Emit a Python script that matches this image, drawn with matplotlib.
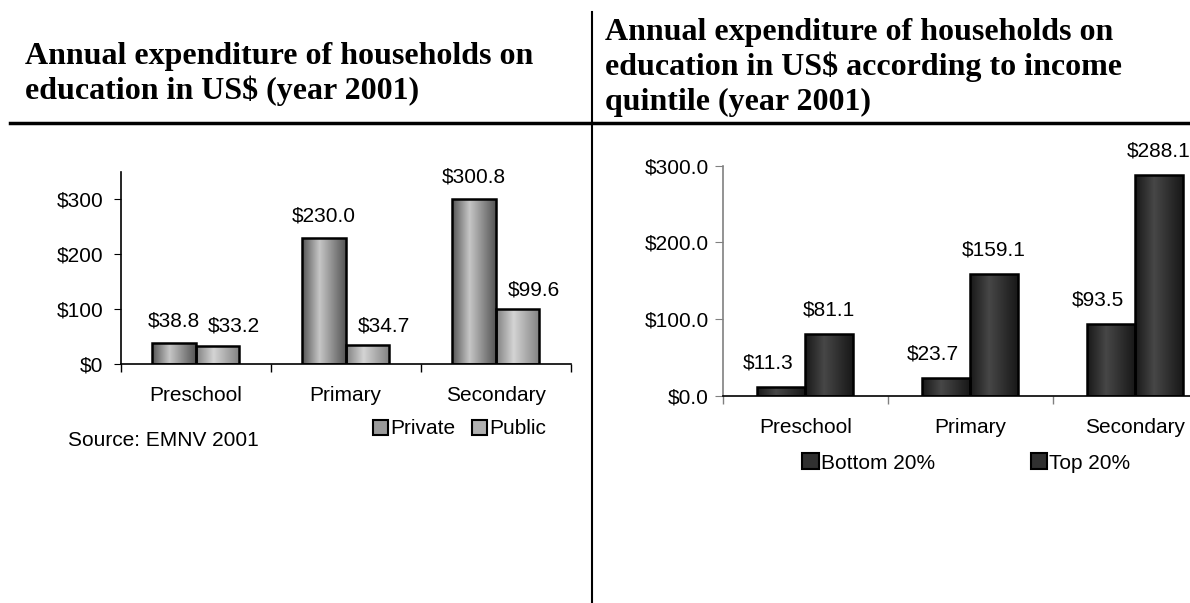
import numpy as np
import matplotlib
matplotlib.use("Agg")
import matplotlib.pyplot as plt
from matplotlib.colors import LinearSegmentedColormap
from matplotlib.lines import Line2D
from matplotlib.patches import Patch

# data
levels = ["Preschool", "Primary", "Secondary"]
private = [38.8, 230.0, 300.8]
public = [33.2, 34.7, 99.6]
bottom20 = [11.3, 23.7, 93.5]
top20 = [81.1, 159.1, 288.1]

W, H = 1190, 603
plt.rcParams["font.family"] = ["Liberation Sans", "DejaVu Sans"]

fig = plt.figure(figsize=(W / 100, H / 100), dpi=100)


def fx(x):
    return x / W


def fy(y):
    return 1 - y / H


def shade(ax, bars, edge, mid):
    # cylinder-like shading, clipped to each bar
    cmap = LinearSegmentedColormap.from_list("s", [(0, edge), (0.4, mid), (1, edge)])
    grad = np.linspace(0, 1, 200).reshape(1, -1)
    for b in bars:
        x0, y0 = b.get_xy()
        im = ax.imshow(grad, cmap=cmap, aspect="auto", zorder=2,
                       extent=[x0, x0 + b.get_width(), y0, y0 + b.get_height()])
        im.set_clip_path(b)


def label(ax, bars, vals, fmt, dx, dy):
    for b, v in zip(bars, vals):
        ax.annotate(fmt.format(v), (b.get_x() + b.get_width() / 2, v),
                    xytext=(dx, dy), textcoords="offset points",
                    ha="center", va="baseline", fontsize=15, annotation_clip=False)


def style(ax, ycol):
    ax.set_xlim(-0.5, 2.5)
    ax.set_xticks(range(3))
    ax.set_xticklabels(levels, fontsize=15)
    ax.set_xticks([-0.5, 0.5, 1.5, 2.5], minor=True)
    ax.tick_params(axis="x", which="major", length=0, pad=16)
    ax.tick_params(axis="x", which="minor", length=6, width=1, color=ycol)
    ax.spines["top"].set_visible(False)
    ax.spines["right"].set_visible(False)
    ax.spines["left"].set_color(ycol)
    ax.spines["left"].set_linewidth(1.2)
    ax.spines["bottom"].set_linewidth(1.2)
    ax.set_facecolor("none")


x = np.arange(3)
bw = 0.29

# left chart
ax1 = fig.add_axes([fx(120.7), fy(364), 450 / W, (364 - 171.8) / H])
b1 = ax1.bar(x - bw / 2, private, bw, facecolor="none", edgecolor="black", linewidth=1.8, zorder=3)
b2 = ax1.bar(x + bw / 2, public, bw, facecolor="none", edgecolor="black", linewidth=1.8, zorder=3)
shade(ax1, b1, "#555555", "#c6c6c6")
shade(ax1, b2, "#808080", "#d4d4d4")
style(ax1, "black")
ax1.set_ylim(0, 350)
ax1.set_yticks([0, 100, 200, 300])
ax1.set_yticklabels(["$" + str(v) for v in [0, 100, 200, 300]], fontsize=15)
ax1.tick_params(axis="y", length=5, pad=7.5)
label(ax1, b1, private, "${:.1f}", 0, 11.5)
label(ax1, b2, public, "${:.1f}", 12, 10)

ax1.legend(handles=[Patch(facecolor="#9a9a9a", edgecolor="black", linewidth=1.5, label="Private"),
                    Patch(facecolor="#b0b0b0", edgecolor="black", linewidth=1.5, label="Public")],
           loc="center left", bbox_to_anchor=(fx(373), fy(429)), bbox_transform=fig.transFigure,
           ncol=2, frameon=False, fontsize=15, borderpad=0, borderaxespad=0,
           handlelength=0.72, handleheight=0.72, handletextpad=0.1, columnspacing=0.8)
fig.text(fx(68), fy(440), "Source: EMNV 2001", fontsize=15, va="center")

# right chart
ax2 = fig.add_axes([fx(722.7), fy(395.7), 495 / W, (395.7 - 165.7) / H])
b3 = ax2.bar(x - bw / 2, bottom20, bw, facecolor="none", edgecolor="black", linewidth=1.8, zorder=3)
b4 = ax2.bar(x + bw / 2, top20, bw, facecolor="none", edgecolor="black", linewidth=1.8, zorder=3)
shade(ax2, b3, "#181818", "#474747")
shade(ax2, b4, "#181818", "#474747")
style(ax2, "#808080")
ax2.spines["bottom"].set_color("black")
ax2.set_ylim(0, 300)
ax2.set_yticks([0, 100, 200, 300])
ax2.set_yticklabels(["${:.1f}".format(v) for v in [0, 100, 200, 300]], fontsize=15)
ax2.tick_params(axis="y", length=6, pad=4, color="#808080")
label(ax2, b3, bottom20, "${:.1f}", -9.4, 13)
label(ax2, b4, top20, "${:.1f}", 0, 13)

ax2.legend(handles=[Patch(facecolor="#303030", edgecolor="black", linewidth=1.5, label="Bottom 20%"),
                    Patch(facecolor="#303030", edgecolor="black", linewidth=1.5, label="Top 20%")],
           loc="center left", bbox_to_anchor=(fx(802), fy(463)), bbox_transform=fig.transFigure,
           ncol=2, frameon=False, fontsize=15, borderpad=0, borderaxespad=0,
           handlelength=0.8, handleheight=0.8, handletextpad=0.1, columnspacing=4.6)

# titles
tfont = dict(fontsize=23, fontweight="bold", family=["Liberation Serif", "DejaVu Serif"])
fig.text(fx(25), fy(64), "Annual expenditure of households on", va="baseline", **tfont)
fig.text(fx(25), fy(99), "education in US$ (year 2001)", va="baseline", **tfont)
fig.text(fx(605), fy(40), "Annual expenditure of households on", va="baseline", **tfont)
fig.text(fx(605), fy(75), "education in US$ according to income", va="baseline", **tfont)
fig.text(fx(605), fy(110), "quintile (year 2001)", va="baseline", **tfont)

# separator lines
fig.add_artist(Line2D([fx(592), fx(592)], [fy(12), 0], transform=fig.transFigure, color="black", lw=1.5))
fig.add_artist(Line2D([fx(9.6), 1], [fy(122.7), fy(122.7)], transform=fig.transFigure, color="black", lw=2.5))

fig.savefig("out.png", dpi=100)
